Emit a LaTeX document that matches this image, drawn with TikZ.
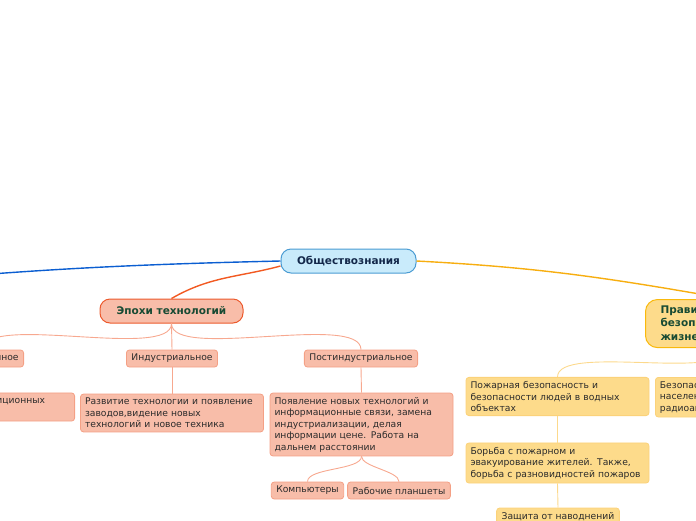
\documentclass[tikz,border=0pt]{standalone}
\usepackage{fontspec}
\setmainfont{DejaVu Sans}

\definecolor{socfill}{HTML}{C9EBFB}
\definecolor{socdraw}{HTML}{4B9CD3}
\definecolor{soctext}{HTML}{13284A}
\definecolor{bluelink}{HTML}{0B5ED1}
\definecolor{epochfill}{HTML}{F8BDA9}
\definecolor{epochdraw}{HTML}{EC5A2D}
\definecolor{orangelink}{HTML}{F25A22}
\definecolor{salmonlink}{HTML}{F7A88F}
\definecolor{salmondraw}{HTML}{F4A085}
\definecolor{rulesfill}{HTML}{FDDB8B}
\definecolor{rulesdraw}{HTML}{F9B90D}
\definecolor{yellowlink}{HTML}{F7AE10}
\definecolor{sandlink}{HTML}{FCD98C}
\definecolor{sanddraw}{HTML}{FBD27A}
\definecolor{topictext}{HTML}{174A33}
\definecolor{bodytext}{HTML}{2B2B2B}

\begin{document}
\begin{tikzpicture}[x=1pt,y=1pt,auto,
  center node/.style={rectangle,rounded corners=10pt,draw=socdraw,fill=socfill,
    line width=1pt,text=soctext,font=\bfseries\fontsize{10.5}{13}\selectfont,
    minimum height=24pt,minimum width=135pt,inner xsep=0pt},
  topic node/.style={rectangle,rounded corners=10pt,line width=1pt,text=topictext,
    font=\bfseries\fontsize{10.5}{13.5}\selectfont,minimum height=24pt},
  sub node/.style={rectangle,rounded corners=3pt,line width=0.8pt,text=bodytext,
    font=\fontsize{9.2}{11.5}\selectfont,minimum height=17pt,inner xsep=5pt,inner ysep=4pt},
  leaf node/.style={sub node,text width=174pt,align=left,inner xsep=4.5pt},
  salmon/.style={draw=salmondraw,fill=epochfill},
  sand/.style={draw=sanddraw,fill=rulesfill}]

  \useasboundingbox (0,0) rectangle (696,-520);
  \clip (0,0) rectangle (696,-520);

  \node[center node] (soc) at (348.5,-261) {Обществознания};
  \coordinate (lefthub) at (-150,-286);

  % epochs branch
  \node[topic node,draw=epochdraw,fill=epochfill,minimum width=143pt] (epoch)
    [node distance=50pt, below of=soc, xshift=-177pt] {Эпохи технологий};
  \node[sub node,salmon] (trad) [node distance=47.5pt, below of=epoch, anchor=east, xshift=-147.5pt] {Традиционное};
  \node[sub node,salmon] (ind) [node distance=47.5pt, below of=epoch, xshift=0.5pt] {Индустриальное};
  \node[sub node,salmon] (post) [node distance=47.5pt, below of=epoch, xshift=189.5pt] {Постиндустриальное};
  \node[leaf node,salmon,anchor=east,xshift=51pt,yshift=-48.5pt] (tradtxt) at (trad.east)
    {Использование традиционных\\орудий};
  \node[leaf node,salmon] (indtxt) [node distance=54.5pt, below of=ind]
    {Развитие технологии и появление\\заводов,видение новых\\технологий и новое техника};
  \node[leaf node,salmon] (posttxt) [node distance=66pt, below of=post, xshift=0.5pt]
    {Появление новых технологий и\\информационные связи, замена\\индустриализации, делая\\информации цене. Работа на\\дальнем расстоянии};
  \node[sub node,salmon] (comp) [node distance=66pt, below of=posttxt, xshift=-54pt] {Компьютеры};
  \node[sub node,salmon] (tablet) [node distance=66pt, below of=posttxt, xshift=37.5pt] {Рабочие планшеты};

  % safety branch
  \node[topic node,draw=rulesdraw,fill=rulesfill,rounded corners=12pt,align=left,
    inner xsep=15pt,inner ysep=6pt,text width=135pt] (rules)
    [node distance=38pt, below of=soc, anchor=north west, xshift=296.5pt]
    {Правила\\безопасности\\жизнедеятельности};
  \node[leaf node,sand] (fire) [node distance=135.5pt, below of=soc, xshift=209pt]
    {Пожарная безопасность и\\безопасности людей в водных\\объектах};
  \node[leaf node,sand] (radio) [node distance=97.5pt, right of=fire, anchor=north west, yshift=19.5pt]
    {Безопасность\\населения при\\радиоактивном заражении};
  \node[leaf node,sand] (fight) [node distance=66.5pt, below of=fire]
    {Борьба с пожарном и\\эвакуирование жителей. Также,\\борьба с разновидностей пожаров};
  \node[sub node,sand] (flood) [node distance=53.5pt, below of=fight, xshift=0.5pt] {Защита от наводнений};

  \path[line width=1.4pt]
    (soc.west) edge[bluelink, bend right=2] (lefthub)
    ([yshift=-5pt]soc.west) edge[orangelink, out=195, in=30] (epoch.north)
    (soc.east) edge[yellowlink, out=-3, in=170] (rules.north)
    ;

  \path[line width=0.9pt, every edge/.append style={salmonlink}]
    (epoch.south) edge[out=-90, in=90, looseness=0.5] (trad.north)
    (epoch.south) edge (ind.north)
    (epoch.south) edge[out=-90, in=90, looseness=0.5] (post.north)
    (trad.south) edge (tradtxt.north)
    (ind.south) edge (indtxt.north)
    (post.south) edge (posttxt.north)
    (posttxt.south) edge[out=-90, in=90, looseness=0.6] (comp.north)
    (posttxt.south) edge[out=-90, in=90, looseness=0.6] (tablet.north)
    ;

  \path[line width=0.9pt, every edge/.append style={sandlink}]
    (rules.south) edge[out=-90, in=90, looseness=0.5] (fire.north)
    (rules.south) edge[out=-90, in=90, looseness=0.5] (radio.north)
    (fire.south) edge (fight.north)
    (fight.south) edge (flood.north)
    ;
\end{tikzpicture}
\end{document}
